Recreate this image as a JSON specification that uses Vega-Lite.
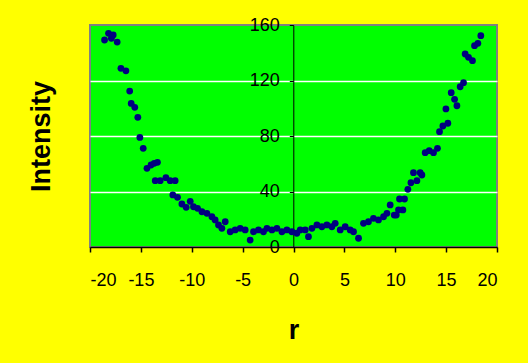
{
  "$schema": "https://vega.github.io/schema/vega-lite/v6.json",
  "width": 407,
  "height": 222,
  "autosize": {"type": "none"},
  "padding": {"left": 90, "top": 25, "right": 31, "bottom": 116},
  "background": "#FFFF00",
  "config": {
    "font": "Liberation Sans",
    "view": {"fill": "#00FF00", "stroke": "#808080", "strokeWidth": 2}
  },
  "data": {
    "values": [
      {"r": -18.57, "intensity": 149.2}, {"r": -18.18, "intensity": 154}, {"r": -17.9, "intensity": 150.4},
      {"r": -17.72, "intensity": 152.8}, {"r": -17.33, "intensity": 147.7}, {"r": -16.96, "intensity": 128.8},
      {"r": -16.47, "intensity": 127}, {"r": -16.1, "intensity": 112.4}, {"r": -15.95, "intensity": 103.5},
      {"r": -15.6, "intensity": 100.7}, {"r": -15.3, "intensity": 93.5}, {"r": -15.1, "intensity": 79},
      {"r": -14.77, "intensity": 71.1}, {"r": -14.4, "intensity": 56.7}, {"r": -14.0, "intensity": 59.1},
      {"r": -13.69, "intensity": 60.3}, {"r": -13.37, "intensity": 61}, {"r": -13.59, "intensity": 47.8},
      {"r": -13.1, "intensity": 47.8}, {"r": -12.54, "intensity": 50}, {"r": -12.12, "intensity": 47.8},
      {"r": -11.63, "intensity": 47.8}, {"r": -11.86, "intensity": 37.5}, {"r": -11.4, "intensity": 35.8},
      {"r": -10.97, "intensity": 31}, {"r": -10.55, "intensity": 28.6}, {"r": -10.15, "intensity": 32.9},
      {"r": -9.83, "intensity": 29}, {"r": -9.43, "intensity": 27.9}, {"r": -9.0, "intensity": 25.4},
      {"r": -8.51, "intensity": 24.3}, {"r": -8.02, "intensity": 21.8}, {"r": -7.7, "intensity": 19.5},
      {"r": -7.37, "intensity": 15.9}, {"r": -7.04, "intensity": 13.5}, {"r": -6.71, "intensity": 18.2},
      {"r": -6.22, "intensity": 11}, {"r": -5.73, "intensity": 12.3}, {"r": -5.24, "intensity": 13.5},
      {"r": -4.75, "intensity": 12.3}, {"r": -4.26, "intensity": 5}, {"r": -3.93, "intensity": 11},
      {"r": -3.44, "intensity": 12.3}, {"r": -2.95, "intensity": 11}, {"r": -2.61, "intensity": 13.5},
      {"r": -2.12, "intensity": 12.3}, {"r": -1.63, "intensity": 13.5}, {"r": -1.14, "intensity": 11},
      {"r": -0.65, "intensity": 12.3}, {"r": -0.16, "intensity": 11}, {"r": 0.33, "intensity": 9.9},
      {"r": 0.66, "intensity": 12.3}, {"r": 1.15, "intensity": 12.3}, {"r": 1.47, "intensity": 7.4},
      {"r": 1.81, "intensity": 13.5}, {"r": 2.3, "intensity": 15.9}, {"r": 2.79, "intensity": 14.6},
      {"r": 3.28, "intensity": 15.9}, {"r": 3.77, "intensity": 14.6}, {"r": 4.1, "intensity": 17.1},
      {"r": 4.59, "intensity": 12.3}, {"r": 5.08, "intensity": 14.6}, {"r": 5.57, "intensity": 12.3},
      {"r": 5.9, "intensity": 11}, {"r": 6.39, "intensity": 6.3}, {"r": 6.88, "intensity": 17.1},
      {"r": 7.37, "intensity": 18.2}, {"r": 7.86, "intensity": 20.7}, {"r": 8.35, "intensity": 19.5},
      {"r": 8.85, "intensity": 21.8}, {"r": 9.18, "intensity": 24.3}, {"r": 9.5, "intensity": 30.3},
      {"r": 9.9, "intensity": 23}, {"r": 10.1, "intensity": 23}, {"r": 10.32, "intensity": 26.7},
      {"r": 10.42, "intensity": 34.6}, {"r": 10.75, "intensity": 26.7}, {"r": 10.91, "intensity": 34.6},
      {"r": 11.24, "intensity": 41.6}, {"r": 11.54, "intensity": 46.3}, {"r": 11.79, "intensity": 53.6},
      {"r": 12.13, "intensity": 47.8}, {"r": 12.45, "intensity": 53.6}, {"r": 12.62, "intensity": 51.9},
      {"r": 12.94, "intensity": 68}, {"r": 13.34, "intensity": 69.4}, {"r": 13.76, "intensity": 68},
      {"r": 14.15, "intensity": 71.1}, {"r": 14.35, "intensity": 83.1}, {"r": 14.68, "intensity": 87.2},
      {"r": 15.17, "intensity": 89.2}, {"r": 14.98, "intensity": 99.5}, {"r": 16.06, "intensity": 101.8},
      {"r": 15.83, "intensity": 106.4}, {"r": 15.5, "intensity": 111.2}, {"r": 16.38, "intensity": 115.5},
      {"r": 16.71, "intensity": 118.4}, {"r": 16.87, "intensity": 139.1}, {"r": 17.2, "intensity": 136.7},
      {"r": 17.59, "intensity": 134.3}, {"r": 17.79, "intensity": 145.1}, {"r": 18.12, "intensity": 146.8},
      {"r": 18.41, "intensity": 152.3}
    ]
  },
  "mark": {"type": "circle", "size": 46, "color": "#000080", "opacity": 1},
  "encoding": {
    "x": {
      "field": "r",
      "type": "quantitative",
      "scale": {"domain": [-20, 20], "nice": false, "zero": false},
      "axis": {
        "values": [-20, -15, -10, -5, 0, 5, 10, 15, 20],
        "labelExpr": "datum.value + ''",
        "grid": false,
        "domainColor": "#000000",
        "domainWidth": 1.5,
        "tickColor": "#000000",
        "tickSize": 5,
        "tickWidth": 1.5,
        "labelFontSize": 18,
        "labelColor": "#000000",
        "labelPadding": 19,
        "title": "r",
        "titleFontSize": 27,
        "titleFontWeight": "bold",
        "titleColor": "#000000",
        "titlePadding": 28
      }
    },
    "y": {
      "field": "intensity",
      "type": "quantitative",
      "scale": {"domain": [0, 160], "nice": false},
      "axis": {
        "values": [0, 40, 80, 120, 160],
        "offset": -203.3,
        "grid": true,
        "gridColor": {"condition": {"test": "datum.value === 0 || datum.value === 160", "value": "transparent"}, "value": "#FFFFFF"},
        "gridWidth": 1.5,
        "domainColor": "#000000",
        "domainWidth": 1,
        "tickColor": "#000000",
        "tickSize": 4,
        "labelPadding": 10,
        "labelFontSize": 18,
        "labelColor": "#000000",
        "title": "Intensity",
        "titleFontSize": 27,
        "titleFontWeight": "bold",
        "titleColor": "#000000",
        "titlePadding": 194
      }
    }
  }
}
